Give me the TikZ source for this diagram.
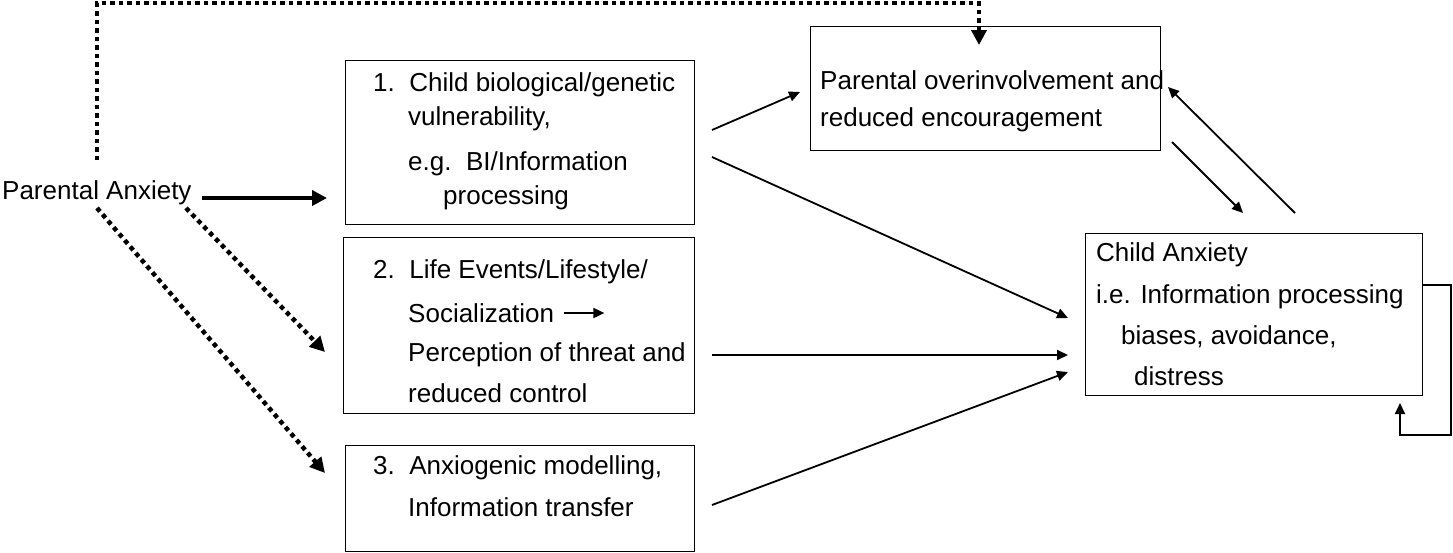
\documentclass[tikz,border=0pt]{standalone}
\usepackage{fontspec}
\setmainfont{Liberation Sans}
\usetikzlibrary{arrows.meta}
\begin{document}
\begin{tikzpicture}[x=1pt,y=-1pt,
  box/.style={draw,line width=1pt,inner sep=0pt,anchor=north west},
  txt/.style={anchor=west,inner sep=0pt,font=\fontsize{26}{29}\selectfont},
  thin/.style={line width=1.8pt,-{Triangle[width=10pt,length=11pt]}},
  dots/.style={line width=4.5pt,dash pattern=on 4.5pt off 4pt,-{Triangle[width=15pt,length=15pt]}}]
\useasboundingbox (0,0) rectangle (1453,552);
\node[box,minimum width=349pt,minimum height=164pt] (b1) at (345,60) {};
\node[box,minimum width=351pt,minimum height=176pt] (b2) at (343,237) {};
\node[box,minimum width=349pt,minimum height=106pt] (b3) at (345,445) {};
\node[box,minimum width=350pt,minimum height=124pt] (bp) at (810,26) {};
\node[box,minimum width=337pt,minimum height=162pt] (bc) at (1085,233) {};
\node[txt] (pa) at (2,193) {Parental Anxiety};
\node[txt] at (373,85) {1.\ \ Child biological/genetic};
\node[txt] at (408,119) {vulnerability,};
\node[txt] at (408,164) {e.g.\ \ BI/Information};
\node[txt] at (443,198) {processing};
\node[txt] at (373,272) {2.\ \ Life Events/Lifestyle/};
\node[txt] (soc) at (408,313) {Socialization};
\node[txt] at (408,355) {Perception of threat and};
\node[txt] at (408,393) {reduced control};
\node[txt] at (373,468) {3.\ \ Anxiogenic modelling,};
\node[txt] at (408,507) {Information transfer};
\node[txt] at (820,80) {Parental overinvolvement and};
\node[txt] at (820,120) {reduced encouragement};
\node[txt] at (1096,255) {Child Anxiety};
\node[txt] at (1096,297) {i.e. Information processing};
\node[txt] at (1121,337) {biases, avoidance,};
\node[txt] at (1134,376) {distress};
\draw[thin] (soc.east)++(10,0) -- ++(40,0);
\draw[line width=4pt,-{Triangle[width=15pt,length=15pt]}] (202,198) -- (327,198);
\draw[dots] (97,160) |- (979,3) -- (979,45);
\draw[dots] (186,208) -- (325,352);
\draw[dots] (97,208) -- (325,473);
\draw[thin] (712,130) -- (800,92);
\draw[thin] (712,157) -- (1068,318);
\draw[thin] (712,355) -- (1068,355);
\draw[thin] (712,505) -- (1068,372);
\draw[thin] (1172,142) -- (1243,213);
\draw[thin] (1295,213) -- (1168,87);
\draw[thin] (bc.east|-0,285) -- (1451,285) -- (1451,435) -- (1400,435) -- (1400,403);
\end{tikzpicture}
\end{document}
